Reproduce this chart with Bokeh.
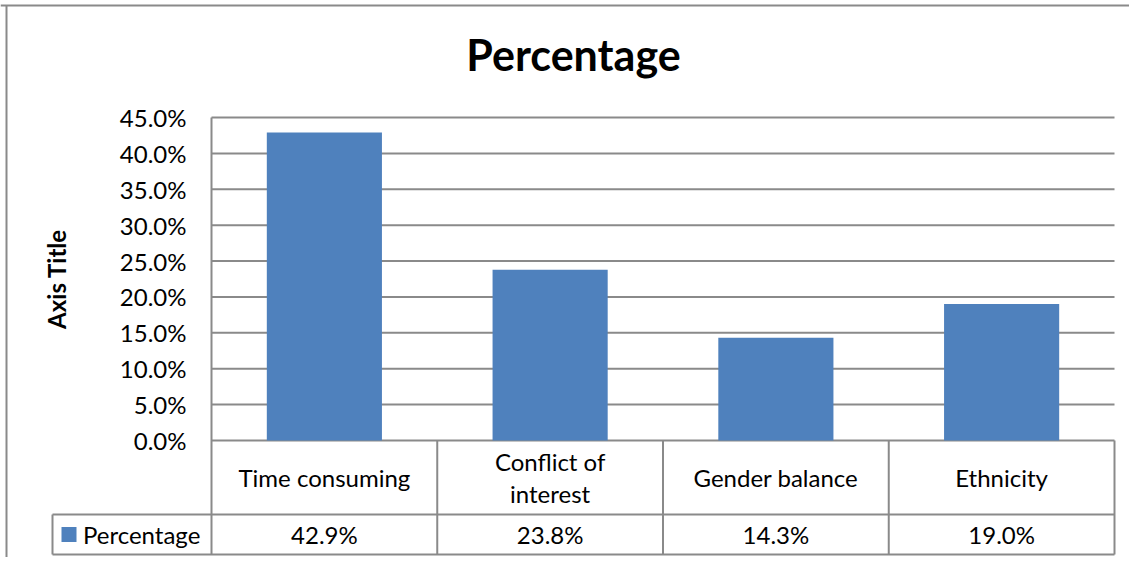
import math
from bokeh.plotting import figure
from bokeh.models import Range1d, LinearAxis, FixedTicker, PrintfTickFormatter, ColumnDataSource
from bokeh.core.properties import value
from bokeh.embed import file_html
from bokeh.resources import INLINE

# ---------------- data ----------------
categories = ["Time consuming", "Conflict of\ninterest", "Gender balance", "Ethnicity"]
series_name = "Percentage"
values = [42.9, 23.8, 14.3, 19.0]
y_ticks = [0, 5, 10, 15, 20, 25, 30, 35, 40, 45]
chart_title = "Percentage"
y_axis_title = "Axis Title"

# ---------------- layout (pixels) ----------------
W, H = 1129, 557
PX_AXIS_X = 211          # canvas px of value axis
PX_CAT = 225.75          # px per category
PX_TOP = 117             # canvas px of top gridline (45%)
PX_PLOT_H = 323          # px from 45% to 0%
YMAX = y_ticks[-1]
YU = PX_PLOT_H / YMAX    # px per percent
ROW1_PX = 74             # header row height
ROW2_PX = 40             # data row height
LEGEND_CELL_PX = 159     # width of legend cell

x0 = -PX_AXIS_X / PX_CAT
x1 = x0 + W / PX_CAT
y1 = YMAX + PX_TOP / YU
y0 = y1 - H / YU

def cx(px):
    return x0 + px / PX_CAT

def cy(px):
    return y1 - px / YU

n = len(categories)
xs = [i + 0.5 for i in range(n)]
row1_bottom = -ROW1_PX / YU
row2_bottom = row1_bottom - ROW2_PX / YU
row1_mid = row1_bottom / 2
row2_mid = (row1_bottom + row2_bottom) / 2
legend_left = -LEGEND_CELL_PX / PX_CAT

FONT = "Lato"
FS = "24px"
GRID = "#8a8a8a"
BAR = "#4F81BD"

p = figure(width=W, height=H, output_backend="svg", toolbar_location=None,
           x_range=Range1d(x0, x1), y_range=Range1d(y0, y1),
           x_axis_location=None, y_axis_location=None,
           min_border=0, min_border_left=0, min_border_right=0,
           min_border_top=0, min_border_bottom=0)
p.outline_line_color = None
p.background_fill_color = "white"
p.border_fill_color = "white"
p.xgrid.visible = False
p.ygrid.visible = False

# outer chart border (top & left)
p.segment(x0=[x0], y0=[cy(5)], x1=[x1], y1=[cy(5)], line_color=GRID, line_width=2)
p.segment(x0=[cx(6)], y0=[y0], x1=[cx(6)], y1=[cy(5)], line_color=GRID, line_width=2)

# gridlines
p.segment(x0=[0] * len(y_ticks), y0=y_ticks, x1=[n] * len(y_ticks), y1=y_ticks,
          line_color=GRID, line_width=2)

# bars
src = ColumnDataSource(dict(x=xs, top=values, cat=categories,
                            lab=[f"{v:.1f}%" for v in values]))
p.vbar(x="x", top="top", bottom=0, width=0.51, source=src, fill_color=BAR, line_color=None)

# value axis
yaxis = LinearAxis(fixed_location=0, ticker=FixedTicker(ticks=y_ticks),
                   formatter=PrintfTickFormatter(format="%.1f%%"),
                   bounds=(row2_bottom, YMAX))
yaxis.major_tick_in = 0
yaxis.major_tick_out = 0
yaxis.minor_tick_in = 0
yaxis.minor_tick_out = 0
yaxis.axis_line_color = GRID
yaxis.axis_line_width = 2
yaxis.major_label_standoff = 25
yaxis.major_label_text_font = FONT
yaxis.major_label_text_font_size = FS
yaxis.major_label_text_color = "black"
p.add_layout(yaxis, "left")

# data table lines
p.segment(x0=[legend_left, legend_left], y0=[row1_bottom, row2_bottom],
          x1=[n, n], y1=[row1_bottom, row2_bottom], line_color=GRID, line_width=2)
vx = list(range(1, n + 1))
p.segment(x0=vx, y0=[0] * n, x1=vx, y1=[row2_bottom] * n, line_color=GRID, line_width=2)
p.segment(x0=[legend_left], y0=[row1_bottom], x1=[legend_left], y1=[row2_bottom],
          line_color=GRID, line_width=2)

# table texts
src.data["hy"] = [row1_mid] * n
src.data["dy"] = [row2_mid] * n
p.text(x="x", y="hy", text="cat", source=src, text_font=value(FONT), text_font_size=FS,
       text_align="center", text_baseline="middle", text_color="black", text_line_height=1.08)
p.text(x="x", y="dy", text="lab", source=src, text_font=value(FONT), text_font_size=FS,
       text_align="center", text_baseline="middle", text_color="black")

# legend key in table
p.scatter(x=[legend_left + 16.5 / PX_CAT], y=[row2_mid], marker="square", size=15,
          fill_color=BAR, line_color=None)
p.text(x=[legend_left + 30.5 / PX_CAT], y=[row2_mid], text=[series_name], text_font=value(FONT),
       text_font_size=FS, text_align="left", text_baseline="middle", text_color="black")

# chart title and axis title
p.text(x=[cx(573)], y=[cy(54)], text=[chart_title], text_font=value(FONT), text_font_size="43px",
       text_font_style="bold", text_align="center", text_baseline="middle", text_color="black")
p.text(x=[cx(56)], y=[YMAX / 2], text=[y_axis_title], angle=math.pi / 2, text_font=value(FONT),
       text_font_size=FS, text_font_style="bold", text_align="center",
       text_baseline="middle", text_color="black")

open("out.html", "w").write(file_html(p, INLINE))
